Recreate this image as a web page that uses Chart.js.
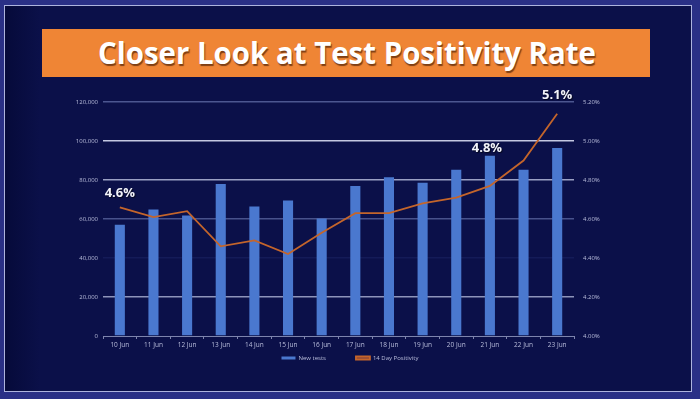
<!DOCTYPE html>
<html><head><meta charset="utf-8">
<script src="https://cdn.jsdelivr.net/npm/chart.js@4.4.1/dist/chart.umd.min.js"></script>
<style>
html,body{margin:0;padding:0;width:700px;height:399px;overflow:hidden;background:#2a3086;}
#inner{position:absolute;left:4px;top:5px;width:688px;height:387px;box-sizing:border-box;border:1.5px solid #aeb4de;
  background:linear-gradient(to right,#060a3a 0px,#0b1049 35px,#0b1049 100%);}
#title{position:absolute;left:42px;top:29px;width:608px;height:48px;background:#ef8535;overflow:hidden;}
#titleText{position:absolute;left:0;top:0;white-space:nowrap;font-family:"Open Sans",sans-serif;font-weight:700;font-size:30px;line-height:48px;color:#ffffff;
  text-shadow:1px 2px 1px rgba(90,40,10,0.75);transform-origin:0 50%;}
#c{position:absolute;left:0;top:0;}
</style></head>
<body>
<div id="inner"></div>
<div id="title"><span id="titleText">Closer Look at Test Positivity Rate</span></div>
<canvas id="c" width="700" height="399"></canvas>
<script>
const categories = ['10 Jun','11 Jun','12 Jun','13 Jun','14 Jun','15 Jun','16 Jun','17 Jun','18 Jun','19 Jun','20 Jun','21 Jun','22 Jun','23 Jun'];
const newTests = [57100,64900,61800,77900,66400,69500,60200,76900,81400,78600,85200,92400,85200,96400];
const positivity = [4.66,4.61,4.64,4.46,4.49,4.42,4.53,4.63,4.63,4.68,4.71,4.77,4.90,5.14];
const seriesNames = ['New tests','14 Day Positivity'];
const calloutIndex = [0,11,13];
const calloutText = ['4.6%','4.8%','5.1%'];
const leftMin = 0, leftMax = 120000, leftStep = 20000;
const rightMin = 4.0, rightMax = 5.2, rightStep = 0.2;

// fit title text
(function(){
  const t = document.getElementById('titleText');
  const w = t.getBoundingClientRect().width;
  const target = 498;
  t.style.transform = 'scaleX(' + (target / w) + ')';
  t.style.left = (98 - 42) + 'px';
})();

const tickColor = '#b9bddb';
const gridColors = {120000:'#4c5690',100000:'#c4c8e2',80000:'#9aa0c4',60000:'#48528c',40000:'#141b58',20000:'#8e94ba',0:'rgba(0,0,0,0)'};

const callouts = {
  id:'callouts',
  afterDatasetsDraw(chart){
    const ctx = chart.ctx;
    const x = chart.scales.x, yL = chart.scales.yL, yR = chart.scales.yR;
    ctx.save();
    ctx.font = 'bold 13px "Open Sans", sans-serif';
    ctx.fillStyle = '#f2f3fa';
    ctx.textAlign = 'center';
    ctx.textBaseline = 'middle';
    ctx.shadowColor = 'rgba(0,0,0,0.6)';
    ctx.shadowOffsetX = 1; ctx.shadowOffsetY = 1; ctx.shadowBlur = 1;
    calloutIndex.forEach((idx, k) => {
      const px = x.getPixelForValue(idx);
      let py;
      if (k === 1) py = yL.getPixelForValue(newTests[idx]) - 8;
      else py = yR.getPixelForValue(positivity[idx]) - (k === 0 ? 14 : 18);
      ctx.fillText(calloutText[k], px + (k === 1 ? -3 : 0), py);
    });
    ctx.restore();
  }
};

new Chart(document.getElementById('c'), {
  data: {
    labels: categories,
    datasets: [
      {type:'bar', label:seriesNames[0], data:newTests, yAxisID:'yL', backgroundColor:'#4a78cf', borderWidth:0,
       barPercentage:0.3, categoryPercentage:1.0, order:2},
      {type:'line', label:seriesNames[1], data:positivity, yAxisID:'yR', borderColor:'#c4652b', backgroundColor:'#7a3c3c',
       borderWidth:1.8, pointRadius:0, tension:0, order:1}
    ]
  },
  options: {
    responsive:false, animation:false,
    layout:{padding:{top:102, bottom:28, left:0, right:0}},
    plugins:{
      tooltip:{enabled:false},
      legend:{position:'bottom', labels:{color:tickColor, font:{size:6, family:'"Open Sans", sans-serif'}, boxWidth:14, boxHeight:3, padding:3,
        sort:(a,b)=>a.datasetIndex-b.datasetIndex,
        generateLabels(chart){
          const items = Chart.defaults.plugins.legend.labels.generateLabels(chart);
          items.forEach(it => { if (it.datasetIndex === 0) it.text = it.text + '\u2003\u2003\u2003\u2003\u2002'; });
          return items;
        }}}
    },
    scales:{
      x:{
        offset:true,
        grid:{display:true, drawOnChartArea:false, offset:true, color:'#7d84ad', tickLength:3},
        border:{display:true, color:'#7d84ad', width:1},
        ticks:{color:tickColor, font:{size:6.5, family:'"Open Sans", sans-serif'}, padding:2, maxRotation:0, autoSkip:false},
        afterFit(s){ s.height = 16; }
      },
      yL:{
        position:'left', min:leftMin, max:leftMax,
        grid:{color:(c)=>gridColors[c.tick.value] || '#4c5690', lineWidth:1.5, drawTicks:false},
        border:{display:false},
        ticks:{stepSize:leftStep, color:tickColor, font:{size:6, family:'"Open Sans", sans-serif'}, padding:5,
          callback:(v)=>v.toLocaleString('en-US')},
        afterFit(s){ s.width = 103; }
      },
      yR:{
        position:'right', min:rightMin, max:rightMax,
        grid:{drawOnChartArea:false, drawTicks:false},
        border:{display:false},
        ticks:{stepSize:rightStep, color:tickColor, font:{size:6, family:'"Open Sans", sans-serif'}, padding:9,
          callback:(v)=>Number(v).toFixed(2)+'%'},
        afterFit(s){ s.width = 126; }
      }
    }
  },
  plugins:[callouts]
});
</script>
</body></html>
